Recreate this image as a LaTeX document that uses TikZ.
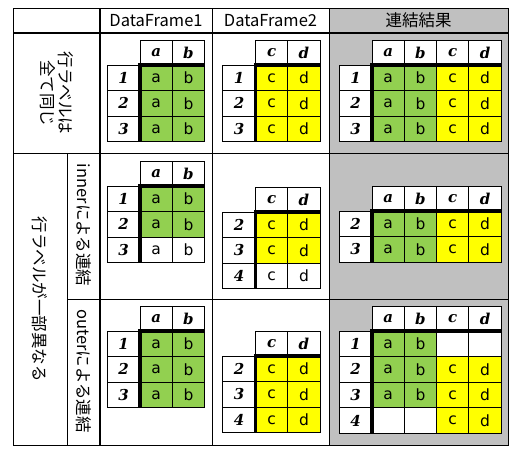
\documentclass[tikz,border=0pt]{standalone}
\usepackage{fontspec}
\setmainfont{Noto Sans CJK JP}
\newfontfamily\cellf{DejaVu Sans}
\newfontfamily\hdf{DejaVu Serif}
\definecolor{xgreen}{HTML}{92D050}
\definecolor{xyellow}{HTML}{FFFF00}
\definecolor{xgray}{HTML}{C0C0C0}
\def\LW{33}\def\CW{32.3}\def\HH{25}\def\RH{25.6}
\tikzset{
  cellbase/.style={draw=black, line width=1pt, inner sep=0pt, outer sep=0pt, anchor=north west},
  hdcell/.style={cellbase, fill=white, minimum width=\CW pt, minimum height=\HH pt,
    font=\hdf\bfseries\itshape\fontsize{15}{15}\selectfont},
  lblcell/.style={cellbase, fill=white, minimum width=\LW pt, minimum height=\RH pt,
    font=\hdf\bfseries\itshape\fontsize{15}{15}\selectfont},
  datcell/.style={cellbase, minimum width=\CW pt, minimum height=\RH pt,
    font=\cellf\fontsize{15.5}{15.5}\selectfont},
  thk/.style={line width=3.5pt, draw=black},
  gridline/.style={line width=1pt, draw=black},
  gridthick/.style={line width=2pt, draw=black},
  jtext/.style={font=\fontsize{16.5}{18}\selectfont, inner sep=0pt},
  vtext/.style={jtext, rotate=-90, align=center},
}
\newcommand{\mhd}[2]{\node[hdcell] (h#1) at ({\LW+\CW*#1},0) {#2};}
\newcommand{\mrl}[2]{\node[lblcell] (r#1) at (0,{\HH+\RH*(#1-1)}) {#2};}
\newcommand{\mdc}[4]{\node[datcell, fill=#3] (c#1#2) at ({\LW+\CW*#1},{\HH+\RH*(#2-1)}) {#4};}
\newcommand{\mthk}[2]{%
  \draw[thk] (\LW,\HH-1.75) -- ++(0,{\RH*#2+1.75});
  \draw[thk] (\LW-1.75,\HH) -- ++({\CW*#1+1.75},0);}
\begin{document}
\begin{tikzpicture}[x=1pt,y=-1pt]
\useasboundingbox (0,0) rectangle (516,453);
\fill[white] (0,0) rectangle (516,453);
% gray result column
\fill[xgray] (329,8) rectangle (508,445);
% header texts
\node[jtext] (hdf1) at (156,20.5) {DataFrame1};
\node[jtext] (hdf2) at (270.5,20.5) {DataFrame2};
\node[jtext] (hres) at (418.5,20.5) {連結結果};
% side labels
\node[vtext] (lab1) at (57,93) {行ラベルは\\全て同じ};
\node[vtext] (lab2) at (40,299) {行ラベルが一部異なる};
\node[vtext] (lab3) at (83.5,225) {innerによる連結};
\node[vtext] (lab4) at (83.5,371) {outerによる連結};
% ---------- section 1 ----------
\begin{scope}[shift={(107,40)}, name prefix=a1-]
\mhd{0}{a}\mhd{1}{b}
\mrl{1}{1}\mrl{2}{2}\mrl{3}{3}
\mdc{0}{1}{xgreen}{a}\mdc{1}{1}{xgreen}{b}
\mdc{0}{2}{xgreen}{a}\mdc{1}{2}{xgreen}{b}
\mdc{0}{3}{xgreen}{a}\mdc{1}{3}{xgreen}{b}
\mthk{2}{3}
\end{scope}
\begin{scope}[shift={(222.5,40)}, name prefix=b1-]
\mhd{0}{c}\mhd{1}{d}
\mrl{1}{1}\mrl{2}{2}\mrl{3}{3}
\mdc{0}{1}{xyellow}{c}\mdc{1}{1}{xyellow}{d}
\mdc{0}{2}{xyellow}{c}\mdc{1}{2}{xyellow}{d}
\mdc{0}{3}{xyellow}{c}\mdc{1}{3}{xyellow}{d}
\mthk{2}{3}
\end{scope}
\begin{scope}[shift={(339,40)}, name prefix=r1-]
\mhd{0}{a}\mhd{1}{b}\mhd{2}{c}\mhd{3}{d}
\mrl{1}{1}\mrl{2}{2}\mrl{3}{3}
\mdc{0}{1}{xgreen}{a}\mdc{1}{1}{xgreen}{b}\mdc{2}{1}{xyellow}{c}\mdc{3}{1}{xyellow}{d}
\mdc{0}{2}{xgreen}{a}\mdc{1}{2}{xgreen}{b}\mdc{2}{2}{xyellow}{c}\mdc{3}{2}{xyellow}{d}
\mdc{0}{3}{xgreen}{a}\mdc{1}{3}{xgreen}{b}\mdc{2}{3}{xyellow}{c}\mdc{3}{3}{xyellow}{d}
\mthk{4}{3}
\end{scope}
% ---------- section 2 (inner) ----------
\begin{scope}[shift={(107,161)}, name prefix=a2-]
\mhd{0}{a}\mhd{1}{b}
\mrl{1}{1}\mrl{2}{2}\mrl{3}{3}
\mdc{0}{1}{xgreen}{a}\mdc{1}{1}{xgreen}{b}
\mdc{0}{2}{xgreen}{a}\mdc{1}{2}{xgreen}{b}
\mdc{0}{3}{white}{a}\mdc{1}{3}{white}{b}
\mthk{2}{3}
\end{scope}
\begin{scope}[shift={(222.5,187)}, name prefix=b2-]
\mhd{0}{c}\mhd{1}{d}
\mrl{1}{2}\mrl{2}{3}\mrl{3}{4}
\mdc{0}{1}{xyellow}{c}\mdc{1}{1}{xyellow}{d}
\mdc{0}{2}{xyellow}{c}\mdc{1}{2}{xyellow}{d}
\mdc{0}{3}{white}{c}\mdc{1}{3}{white}{d}
\mthk{2}{3}
\end{scope}
\begin{scope}[shift={(339,186)}, name prefix=r2-]
\mhd{0}{a}\mhd{1}{b}\mhd{2}{c}\mhd{3}{d}
\mrl{1}{2}\mrl{2}{3}
\mdc{0}{1}{xgreen}{a}\mdc{1}{1}{xgreen}{b}\mdc{2}{1}{xyellow}{c}\mdc{3}{1}{xyellow}{d}
\mdc{0}{2}{xgreen}{a}\mdc{1}{2}{xgreen}{b}\mdc{2}{2}{xyellow}{c}\mdc{3}{2}{xyellow}{d}
\mthk{4}{2}
\end{scope}
% ---------- section 3 (outer) ----------
\begin{scope}[shift={(107,306)}, name prefix=a3-]
\mhd{0}{a}\mhd{1}{b}
\mrl{1}{1}\mrl{2}{2}\mrl{3}{3}
\mdc{0}{1}{xgreen}{a}\mdc{1}{1}{xgreen}{b}
\mdc{0}{2}{xgreen}{a}\mdc{1}{2}{xgreen}{b}
\mdc{0}{3}{xgreen}{a}\mdc{1}{3}{xgreen}{b}
\mthk{2}{3}
\end{scope}
\begin{scope}[shift={(222.5,331)}, name prefix=b3-]
\mhd{0}{c}\mhd{1}{d}
\mrl{1}{2}\mrl{2}{3}\mrl{3}{4}
\mdc{0}{1}{xyellow}{c}\mdc{1}{1}{xyellow}{d}
\mdc{0}{2}{xyellow}{c}\mdc{1}{2}{xyellow}{d}
\mdc{0}{3}{xyellow}{c}\mdc{1}{3}{xyellow}{d}
\mthk{2}{3}
\end{scope}
\begin{scope}[shift={(339,306)}, name prefix=r3-]
\mhd{0}{a}\mhd{1}{b}\mhd{2}{c}\mhd{3}{d}
\mrl{1}{1}\mrl{2}{2}\mrl{3}{3}\mrl{4}{4}
\mdc{0}{1}{xgreen}{a}\mdc{1}{1}{xgreen}{b}\mdc{2}{1}{white}{}\mdc{3}{1}{white}{}
\mdc{0}{2}{xgreen}{a}\mdc{1}{2}{xgreen}{b}\mdc{2}{2}{xyellow}{c}\mdc{3}{2}{xyellow}{d}
\mdc{0}{3}{xgreen}{a}\mdc{1}{3}{xgreen}{b}\mdc{2}{3}{xyellow}{c}\mdc{3}{3}{xyellow}{d}
\mdc{0}{4}{white}{}\mdc{1}{4}{white}{}\mdc{2}{4}{xyellow}{c}\mdc{3}{4}{xyellow}{d}
\mthk{4}{4}
\end{scope}
% ---------- outer grid ----------
\draw[gridline] (13,8) rectangle (508,445);
\draw[gridthick] (13,33) -- (508,33);
\draw[gridthick] (100,8) -- (100,445);
\draw[gridline] (212,8) -- (212,445);
\draw[gridline] (329,8) -- (329,445);
\draw[gridline] (13,153) -- (508,153);
\draw[gridline] (67,299) -- (508,299);
\draw[gridline] (67,153) -- (67,445);
\end{tikzpicture}
\end{document}
